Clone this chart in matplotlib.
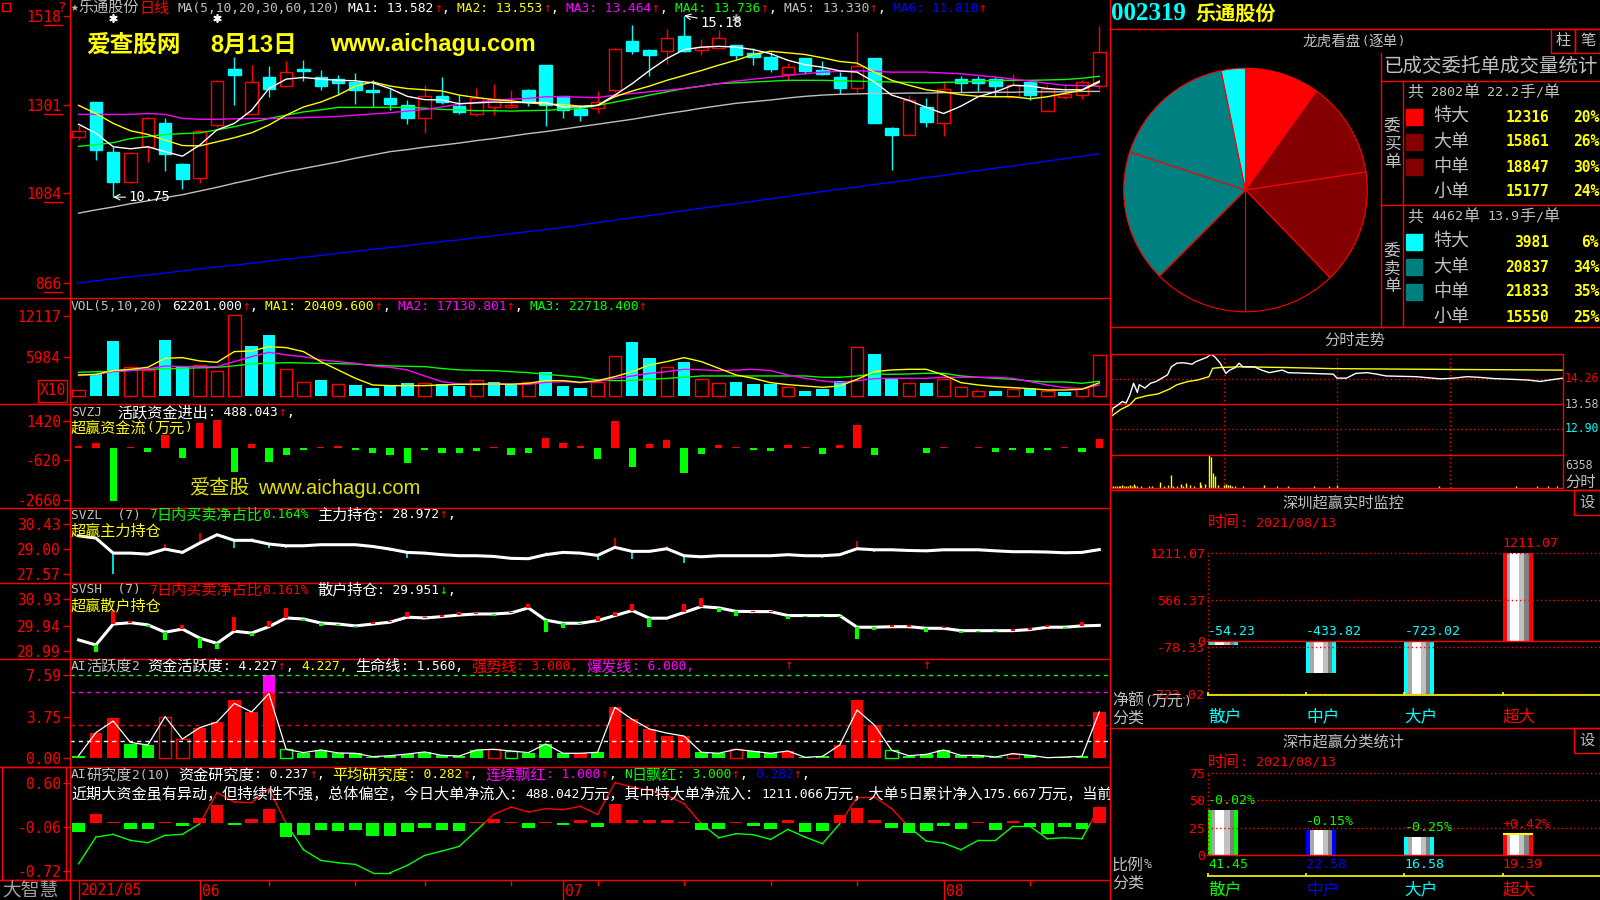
import matplotlib
matplotlib.use('Agg')
import matplotlib.pyplot as plt
from matplotlib.patches import Rectangle
from matplotlib.lines import Line2D

# ---------------- data ----------------
dates = ['2021/05', '06', '07', '08']
date_idx = [0, 7, 28, 50]
week_idx = [11, 16, 20, 25, 30, 35, 40, 45, 55]
event_idx = [2, 8, 38]
signal_idx = [41, 49]

opens = [12.21, 13.06, 11.84, 11.13, 11.98, 12.57, 11.56, 11.21, 12.52, 13.87,
         12.79, 13.67, 13.46, 13.87, 13.69, 13.63, 13.55, 13.37, 13.16, 12.99,
         12.67, 13.22, 12.97, 12.77, 12.95, 12.95, 13.36, 13.97, 13.21, 12.89,
         12.93, 13.36, 14.55, 14.33, 14.31, 14.69, 14.35, 14.39, 14.45, 14.27,
         14.18, 13.76, 14.15, 13.86, 13.67, 13.41, 14.15, 12.43, 12.27, 12.94,
         12.56, 13.64, 13.63, 13.64, 13.20, 13.56, 12.86, 13.20, 13.25, 13.45]
highs = [12.51, 13.08, 11.98, 11.85, 12.71, 12.67, 11.58, 12.38, 13.61, 14.17,
         13.97, 13.94, 14.06, 14.10, 13.86, 13.72, 13.78, 13.60, 13.40, 13.12,
         13.48, 13.67, 13.24, 13.42, 13.52, 13.36, 13.38, 13.97, 13.21, 12.99,
         13.34, 14.40, 14.94, 14.37, 14.86, 15.18, 14.61, 14.83, 14.45, 14.39,
         14.29, 14.03, 14.15, 14.06, 13.80, 14.78, 14.15, 12.45, 13.24, 13.16,
         13.58, 13.70, 13.70, 13.68, 13.75, 13.56, 13.48, 13.52, 13.60, 14.93]
lows = [12.14, 11.66, 10.75, 11.10, 11.62, 11.40, 10.95, 11.09, 12.45, 12.99,
        12.79, 13.20, 13.46, 13.58, 13.36, 13.26, 13.03, 12.94, 12.87, 12.53,
        12.31, 13.03, 12.79, 12.73, 12.75, 12.93, 12.97, 12.48, 12.67, 12.61,
        12.81, 13.32, 14.25, 13.70, 14.01, 14.29, 14.23, 14.39, 14.13, 13.97,
        13.80, 13.58, 13.76, 13.74, 13.26, 13.32, 12.56, 11.41, 12.27, 12.47,
        12.24, 13.32, 13.34, 13.20, 13.20, 13.13, 12.86, 13.14, 13.15, 13.40]
closes = [12.37, 11.90, 11.13, 11.82, 12.67, 11.80, 11.20, 12.36, 13.59, 13.72,
          13.57, 13.40, 13.80, 13.82, 13.46, 13.54, 13.36, 13.31, 13.02, 12.69,
          13.22, 13.07, 12.83, 13.16, 13.15, 12.99, 13.06, 12.99, 12.87, 12.75,
          13.06, 14.37, 14.31, 14.23, 14.64, 14.31, 14.41, 14.64, 14.21, 14.17,
          13.87, 13.92, 13.84, 13.76, 13.41, 13.96, 12.56, 12.26, 13.11, 12.59,
          13.40, 13.54, 13.54, 13.46, 13.48, 13.24, 13.38, 13.26, 13.56, 14.29]

ma5 = [12.53, 12.31, 11.98, 11.93, 11.98, 11.86, 11.75, 12.02, 12.39, 12.55,
       12.87, 13.40, 13.63, 13.67, 13.63, 13.60, 13.59, 13.54, 13.40, 13.21,
       13.13, 13.12, 13.03, 13.05, 13.07, 13.06, 13.06, 13.06, 12.95, 12.95,
       12.99, 13.24, 13.52, 13.84, 14.13, 14.35, 14.41, 14.43, 14.41, 14.35,
       14.25, 14.09, 13.98, 13.92, 13.83, 13.80, 13.56, 13.24, 13.11, 12.94,
       12.79, 12.97, 13.20, 13.32, 13.48, 13.46, 13.40, 13.37, 13.37, 13.58]
ma10 = [12.99, 12.79, 12.55, 12.37, 12.28, 12.14, 12.01, 12.00, 12.10, 12.20,
        12.32, 12.51, 12.75, 12.95, 13.07, 13.24, 13.46, 13.56, 13.46, 13.40,
        13.37, 13.34, 13.24, 13.18, 13.13, 13.10, 13.05, 13.02, 13.01, 12.97,
        12.99, 13.20, 13.34, 13.46, 13.60, 13.72, 13.84, 13.97, 14.09, 14.23,
        14.31, 14.27, 14.23, 14.15, 14.06, 14.02, 13.80, 13.60, 13.48, 13.37,
        13.32, 13.25, 13.21, 13.20, 13.20, 13.15, 13.20, 13.28, 13.36, 13.55]
ma20 = [12.77, 12.77, 12.77, 12.77, 12.79, 12.77, 12.67, 12.65, 12.65, 12.66,
        12.67, 12.67, 12.68, 12.69, 12.70, 12.72, 12.75, 12.78, 12.81, 12.85,
        12.89, 12.95, 13.02, 13.06, 13.12, 13.14, 13.16, 13.20, 13.20, 13.19,
        13.18, 13.24, 13.28, 13.32, 13.36, 13.40, 13.46, 13.52, 13.58, 13.63,
        13.67, 13.72, 13.76, 13.80, 13.82, 13.83, 13.82, 13.80, 13.80, 13.80,
        13.78, 13.76, 13.72, 13.68, 13.63, 13.58, 13.53, 13.48, 13.47, 13.46]
ma30 = [11.99, 12.03, 12.08, 12.18, 12.23, 12.28, 12.30, 12.32, 12.39, 12.47,
        12.57, 12.67, 12.75, 12.83, 12.88, 12.94, 12.94, 12.94, 12.94, 12.94,
        12.92, 12.89, 12.88, 12.86, 12.86, 12.85, 12.86, 12.87, 12.89, 12.91,
        12.99, 13.07, 13.15, 13.24, 13.32, 13.40, 13.46, 13.52, 13.54, 13.56,
        13.58, 13.60, 13.60, 13.60, 13.59, 13.58, 13.57, 13.56, 13.55, 13.54,
        13.55, 13.56, 13.58, 13.60, 13.60, 13.60, 13.61, 13.62, 13.65, 13.70]
ma60 = [10.36, 10.44, 10.51, 10.59, 10.66, 10.74, 10.81, 10.90, 10.99, 11.09,
        11.18, 11.28, 11.37, 11.45, 11.53, 11.61, 11.70, 11.78, 11.86, 11.91,
        11.97, 12.02, 12.07, 12.13, 12.18, 12.24, 12.30, 12.35, 12.41, 12.47,
        12.53, 12.59, 12.65, 12.72, 12.79, 12.85, 12.92, 12.98, 13.04, 13.08,
        13.12, 13.17, 13.21, 13.24, 13.26, 13.27, 13.28, 13.28, 13.29, 13.29,
        13.30, 13.30, 13.31, 13.31, 13.31, 13.32, 13.32, 13.32, 13.33, 13.33]
ma120 = [8.66, 8.71, 8.76, 8.81, 8.85, 8.90, 8.95, 9.00, 9.05, 9.09,
         9.14, 9.19, 9.24, 9.28, 9.33, 9.38, 9.43, 9.48, 9.52, 9.57,
         9.62, 9.67, 9.71, 9.76, 9.81, 9.86, 9.91, 9.96, 10.01, 10.07,
         10.13, 10.19, 10.25, 10.30, 10.36, 10.42, 10.48, 10.54, 10.59, 10.65,
         10.71, 10.77, 10.83, 10.89, 10.94, 11.00, 11.06, 11.11, 11.17, 11.23,
         11.28, 11.34, 11.40, 11.46, 11.51, 11.57, 11.63, 11.69, 11.75, 11.81]

volume = [9550, 33200, 83500, 43760, 39740, 85000, 45770, 47280, 38230, 122730,
          75950, 92550, 40740, 21130, 24650, 18110, 17100, 13080, 17100, 20620,
          19620, 18110, 16100, 24650, 22130, 17100, 21130, 37220, 15590, 13080,
          22130, 60860, 82490, 57850, 43760, 52310, 25650, 19620, 21630, 18610,
          18610, 13580, 8050, 11070, 23140, 73940, 63880, 27160, 19620, 20120,
          25650, 13580, 7550, 8050, 10560, 12000, 7550, 6540, 13000, 62201]
vol_ma5 = [32190, 33200, 38730, 40740, 43760, 57340, 58350, 53320, 51310, 67400,
           68410, 74950, 73440, 67400, 52310, 39740, 27160, 17100, 16100, 16100,
           16100, 17100, 18110, 18110, 18610, 18110, 19620, 23640, 23640, 21130,
           23640, 29680, 37220, 47280, 52310, 58350, 52310, 42250, 32190, 27160,
           20620, 17610, 15590, 13580, 15590, 25650, 37220, 39740, 40740, 40740,
           32190, 20620, 17100, 14590, 13080, 11570, 9560, 9560, 10560, 20410]
vol_ma10 = [31190, 33000, 37220, 39000, 41250, 45770, 45000, 44770, 44770, 52310,
            59860, 66400, 62370, 59860, 54830, 52310, 49800, 45770, 43760, 39740,
            30680, 22130, 18610, 18610, 18610, 18610, 18110, 21000, 22130, 20620,
            22130, 27160, 30680, 34710, 37220, 40740, 40000, 38730, 39500, 40740,
            38730, 32190, 27160, 23140, 20620, 23640, 26660, 27160, 27160, 27160,
            28670, 28670, 28670, 28670, 27160, 22130, 17100, 13080, 11570, 17130]
vol_ma20 = [36220, 37000, 37730, 39000, 40740, 41500, 42250, 43000, 43760, 46000,
            48790, 49800, 50800, 50300, 49800, 49300, 48790, 47000, 45770, 45200,
            44770, 42000, 39740, 39200, 38730, 37200, 35710, 33200, 31000, 28670,
            24650, 23640, 24000, 25650, 27000, 28670, 30680, 30680, 30680, 30680,
            30680, 30680, 30680, 28670, 28670, 30680, 33700, 33200, 33700, 34710,
            34710, 30680, 28670, 27160, 25650, 23140, 21630, 21630, 19620, 22720]

svzj = [137, 291, -2691, 86, -171, 686, -514, 1320, 1457, -1200,
        223, -686, -326, -69, 86, 120, -86, -223, -326, -737,
        -86, -223, -257, -120, 86, -326, -223, 531, 257, 120,
        -549, 1405, -943, 223, 429, -1251, -274, 171, 69, -86,
        -120, 171, 69, -274, 171, 1200, -326, 30, 30, -240,
        69, 30, 69, -171, -86, -223, -86, 69, -171, 488]

svzl = [29.76, 29.63, 28.77, 28.77, 28.71, 29.00, 28.81, 29.34, 29.82, 29.50,
        29.50, 29.29, 29.19, 29.19, 29.25, 29.25, 29.25, 29.15, 29.00, 28.81,
        28.77, 28.68, 28.62, 28.62, 28.58, 28.47, 28.45, 28.68, 28.81, 28.77,
        28.64, 29.10, 28.87, 28.87, 29.02, 28.62, 28.56, 28.62, 28.62, 28.62,
        28.62, 28.68, 28.62, 28.62, 28.68, 29.02, 28.96, 28.96, 28.92, 28.90,
        28.96, 28.96, 28.96, 28.90, 28.85, 28.85, 28.83, 28.79, 28.81, 28.97]
svzl_tick = [0, 0, -1.18, 0.06, -0.06, 0.30, -0.10, 0.57, 0.12, -0.44,
             0.13, -0.23, -0.10, 0.03, 0.06, 0.06, 0, -0.10, -0.10, -0.32,
             0.03, -0.06, -0.06, -0.06, 0.06, -0.06, -0.06, 0.15, 0.08, 0.08,
             -0.25, 0.53, -0.42, 0.08, 0.17, -0.42, -0.06, 0.06, 0.04, -0.06,
             -0.06, 0.06, 0.06, -0.15, 0.06, 0.46, -0.15, 0.06, 0.06, -0.06,
             0.06, 0.04, 0.06, -0.06, 0, -0.06, -0.06, 0.06, -0.06, 0]

svsh = [29.40, 29.21, 30.00, 30.05, 29.97, 29.69, 29.81, 29.47, 29.27, 29.73,
        29.66, 29.90, 30.23, 30.19, 30.04, 30.00, 29.93, 30.00, 30.07, 30.26,
        30.23, 30.28, 30.34, 30.38, 30.38, 30.42, 30.61, 30.15, 30.03, 30.03,
        30.13, 30.32, 30.51, 30.22, 30.22, 30.44, 30.66, 30.61, 30.48, 30.47,
        30.47, 30.32, 30.32, 30.32, 30.32, 29.88, 29.88, 29.90, 29.90, 29.84,
        29.84, 29.75, 29.75, 29.75, 29.75, 29.79, 29.88, 29.88, 29.93, 29.95]
svsh_tick = [0, -0.28, 0.50, 0.06, -0.09, -0.31, 0.15, -0.39, -0.21, 0.53,
             -0.10, 0.23, 0.38, -0.06, -0.13, -0.05, -0.05, 0.06, 0.05, 0.19,
             0.05, 0.05, 0.10, 0.05, -0.06, 0.05, 0.13, -0.45, -0.19, -0.04,
             0.19, 0.13, 0.25, -0.34, 0, 0.32, 0.32, -0.14, -0.18, 0.04,
             0.04, -0.13, -0.04, -0.04, -0.04, -0.44, -0.09, 0.06, 0.06, -0.15,
             0.06, -0.09, -0.06, -0.06, 0.06, 0.06, 0.09, -0.06, 0.13, 0]

act = [0.24, 2.34, 3.67, 1.31, 1.21, 3.80, 1.76, 2.79, 3.31, 5.31,
       4.22, 7.59, 0.82, 0.52, 0.76, 0.49, 0.46, 0.15, 0.24, 0.39,
       0.58, 0.27, 0.21, 0.76, 0.82, 0.67, 0.52, 1.31, 0.46, 0.46,
       0.55, 4.65, 3.55, 2.67, 2.03, 2.03, 0.55, 0.46, 0.82, 0.64,
       0.46, 0.67, 0.09, 0.18, 1.21, 5.31, 3.04, 0.73, 0.24, 0.36,
       0.76, 0.27, 0.27, 0.12, 0.43, 0.27, 0.06, 0.12, 0.18, 4.23]
act_line = [0.24, 2.34, 3.40, 1.45, 1.21, 3.80, 1.76, 2.79, 3.31, 5.00,
            4.22, 5.90, 0.82, 0.52, 0.76, 0.49, 0.46, 0.15, 0.24, 0.39,
            0.58, 0.27, 0.21, 0.76, 0.82, 0.67, 0.52, 1.31, 0.46, 0.46,
            0.55, 4.65, 3.55, 2.67, 2.30, 2.03, 0.55, 0.46, 0.82, 0.64,
            0.46, 0.67, 0.09, 0.18, 1.21, 4.40, 3.04, 0.73, 0.24, 0.36,
            0.76, 0.27, 0.27, 0.12, 0.43, 0.27, 0.06, 0.12, 0.18, 4.23]
act_red = [0, 1, 1, 0, 0, 1, 1, 1, 1, 1, 1, 1, 0, 0, 0, 0, 0, 0, 0, 0,
           0, 0, 0, 0, 1, 0, 0, 0, 0, 1, 0, 1, 1, 1, 1, 1, 0, 0, 1, 0,
           0, 1, 0, 0, 1, 1, 1, 0, 0, 0, 0, 0, 0, 0, 1, 0, 0, 0, 0, 1]
act_hollow = [5, 6, 12, 24, 25, 38, 47, 54]
act_levels = [7.59, 6.0, 3.0, 1.56]

res = [-0.136, 0.141, 0.01, -0.091, -0.091, 0.01, -0.045, 0.081, 0.267, -0.035,
       0.055, 0.207, -0.212, -0.181, -0.111, -0.121, -0.106, -0.197, -0.197, -0.141,
       -0.076, -0.106, -0.121, 0.01, 0.055, 0.01, -0.076, 0.01, -0.025, 0.04,
       -0.06, 0.28, 0.04, 0.05, 0.04, 0.01, -0.11, -0.085, 0.01, -0.045,
       -0.085, 0.04, -0.135, -0.12, 0.115, 0.227, 0.04, -0.075, -0.15, -0.12,
       -0.045, -0.09, 0.01, -0.10, 0.025, -0.06, -0.16, -0.06, -0.085, 0.237]
res_line = [-0.615, -0.212, -0.171, -0.262, -0.297, -0.186, -0.171, -0.01, 0.459, 0.318,
            0.307, 0.519, -0.01, -0.403, -0.564, -0.600, -0.625, -0.751, -0.751, -0.640,
            -0.489, -0.423, -0.353, -0.111, 0.131, 0.242, 0.166, 0.217, 0.202, 0.252,
            0.131, 0.610, 0.544, 0.494, 0.418, 0.292, -0.01, -0.222, -0.161, -0.176,
            -0.247, -0.096, -0.212, -0.312, -0.01, 0.393, 0.393, 0.217, -0.06, -0.272,
            -0.302, -0.403, -0.262, -0.262, -0.05, -0.05, -0.237, -0.222, -0.237, 0.242]

# order book (龙虎看盘)
size_names = ['特大', '大单', '中单', '小单']
buy_vol = [12316, 15861, 18847, 15177]
buy_pct = ['20%', '26%', '30%', '24%']
sell_vol = [3981, 20837, 21833, 15550]
sell_pct = ['6%', '34%', '35%', '25%']

# intraday
tick_min = [0, 1, 3, 6, 8, 10, 12, 14, 15, 18, 21, 24, 27, 30, 32, 35, 38, 40, 43, 45,
            48, 51, 53, 55, 58, 61, 63, 66, 68, 70, 76, 80, 84, 87, 91, 94, 106, 118, 120, 125,
            130, 136, 141, 146, 162, 175, 182, 189, 196, 203, 212, 221, 228, 233, 240]
tick_px = [13.24, 13.47, 13.53, 13.65, 13.61, 13.83, 14.15, 13.90, 14.11, 14.02,
           14.15, 14.20, 14.29, 14.38, 14.60, 14.70, 14.71, 14.70, 14.67, 14.74,
           14.80, 14.86, 14.94, 14.88, 14.70, 14.42, 14.51, 14.58, 14.70, 14.60,
           14.60, 14.51, 14.44, 14.47, 14.51, 14.44, 14.42, 14.40, 14.29, 14.29,
           14.42, 14.44, 14.40, 14.35, 14.33, 14.27, 14.29, 14.33, 14.31, 14.28,
           14.26, 14.24, 14.20, 14.24, 14.29]
avg_min = [0, 5, 10, 13, 19, 25, 31, 35, 41, 46, 52, 54, 58, 68, 93, 118, 175, 240]
avg_px = [13.24, 13.43, 13.56, 13.73, 13.81, 13.86, 13.99, 14.11, 14.20, 14.24,
          14.33, 14.56, 14.58, 14.60, 14.58, 14.55, 14.53, 14.51]
ivol_min = [0, 1, 2, 3, 4, 5, 6, 7, 8, 9, 10, 11, 12, 13, 14, 16, 20, 22, 26, 28,
            30, 32, 33, 35, 37, 38, 40, 42, 44, 47, 48, 50, 52, 53, 54, 55, 57, 60, 61, 62,
            63, 64, 66, 70, 81, 88, 94, 108, 116, 120, 174, 215, 226, 232, 237]
ivol = [509, 318, 445, 318, 318, 381, 509, 445, 445, 381, 636, 318, 827, 318, 445, 318, 318, 318, 1081, 318,
        509, 2543, 445, 318, 763, 445, 954, 636, 445, 1144, 509, 827, 6358, 6040, 2861, 2225, 509, 509, 827, 509,
        636, 445, 318, 318, 509, 318, 318, 318, 318, 636, 318, 318, 318, 318, 318]

# Shenzhen monitors
sz_cats = ['散户', '中户', '大户', '超大']
sz_net = [-54.23, -433.82, -723.02, 1211.07]
sz_ticks = [1211.07, 566.37, 0, -78.33, -723.02]
sm_ratio = [41.45, 22.58, 16.58, 19.39]
sm_chg = ['-0.02%', '-0.15%', '-0.25%', '+0.42%']

# ---------------- style ----------------
RED = '#ff0000'; CYAN = '#00ffff'; YEL = '#ffff00'; MAG = '#ff00ff'
GRN = '#00ff00'; BLUE = '#0000ff'; GRAY = '#c0c0c0'; WHITE = '#ffffff'
DRED = '#840000'; TEAL = '#008080'
MONO = ['DejaVu Sans Mono', 'Noto Sans CJK SC']
CJK = ['Noto Sans CJK SC', 'DejaVu Sans']
W, H = 1600, 900
PX = 100 / 72

fig = plt.figure(figsize=(16, 9), dpi=100, facecolor='black')


def panel(x0, y0, x1, y1, xlim=None, ylim=None):
    a = fig.add_axes([x0 / W, 1 - y1 / H, (x1 - x0) / W, (y1 - y0) / H])
    a.set_facecolor('none')
    for s in a.spines.values():
        s.set_visible(False)
    a.set_xticks([])
    a.set_yticks([])
    if xlim:
        a.set_xlim(*xlim)
    if ylim:
        a.set_ylim(*ylim)
    return a


def seg(x0, y0, x1, y1, color=RED, lw=1.0, ls='-'):
    fig.add_artist(Line2D([x0 / W, x1 / W], [1 - y0 / H, 1 - y1 / H], color=color, lw=lw, ls=ls))


def rect(x0, y0, x1, y1, color=RED, fill=False, lw=1.0):
    fig.add_artist(Rectangle((x0 / W, 1 - y1 / H), (x1 - x0) / W, (y1 - y0) / H,
                             fill=fill, facecolor=color, edgecolor=color, lw=lw,
                             transform=fig.transFigure))


def txt(x, y, s, color=GRAY, size=10, family=CJK, ha='left', weight='normal'):
    return fig.text(x / W, 1 - y / H, s, color=color, fontsize=size, family=family,
                    ha=ha, va='center', weight=weight)


def runs(s):
    out = []
    for ch in s:
        wide = ord(ch) >= 0x2E80
        if out and out[-1][1] == wide:
            out[-1][0] += ch
        else:
            out.append([ch, wide])
    return out


def width(parts, ms, cs):
    w = 0
    for s, c in parts:
        for r, wide in runs(s):
            w += len(r) * (cs if wide else ms * 0.602) * PX
    return w


def put(x, y, parts, ms=9.3, cs=10.9, weight='normal', clip=None, center=False):
    if center:
        x -= width(parts, ms, cs) / 2
    for s, c in parts:
        for r, wide in runs(s):
            size = cs if wide else ms
            cw = size * (1.0 if wide else 0.602) * PX
            lead = len(r) - len(r.lstrip())
            if r.strip():
                t = txt(x + lead * cw, y, r.strip(), c, size, CJK if wide else MONO, weight=weight)
                if clip is not None:
                    t.set_clip_box(clip.bbox)
                    t.set_clip_on(True)
            x += len(r) * cw
    return x


def yaxis(a, vals, labels, size=10.5, length=5):
    a.set_yticks(vals, labels)
    a.tick_params(axis='y', colors=RED, length=length, width=1, pad=1.5, labelsize=size)
    for t in a.get_yticklabels():
        t.set_family(MONO)


# ---------------- left chart ----------------
n = len(closes)
X = list(range(n))
XL = (-0.497, 59.62)
bw = 0.72

ap = panel(70, 0, 1110, 298, XL, (8.29, 15.56))
av = panel(70, 298, 1110, 404, XL, (-1160, 14830))
az = panel(70, 404, 1110, 508, XL, (-3075, 2287))
al = panel(70, 508, 1110, 583, XL, (27.06, 31.35))
ash = panel(70, 583, 1110, 659, XL, (28.68, 31.55))
aa = panel(70, 659, 1110, 767, XL, (-0.79, 9.05))
ay = panel(70, 767, 1110, 880, XL, (-0.86, 0.846))


def xpix(i):
    return ap.transData.transform((i, 0))[0]


# candles
for i in X:
    o, h, l, c = opens[i], highs[i], lows[i], closes[i]
    if c >= o:
        ap.add_patch(Rectangle((i - bw / 2, o), bw, max(c - o, 0.012), fill=False, edgecolor=RED, lw=1))
        ap.vlines(i, c, h, color=RED, lw=1)
        ap.vlines(i, l, o, color=RED, lw=1)
    else:
        ap.vlines(i, l, h, color=CYAN, lw=1)
        ap.add_patch(Rectangle((i - bw / 2, c), bw, o - c, facecolor=CYAN, edgecolor=CYAN, lw=1))
for ma, col in [(ma120, BLUE), (ma60, GRAY), (ma30, GRN), (ma20, MAG), (ma10, YEL), (ma5, WHITE)]:
    ap.plot(X, ma, color=col, lw=1)
yaxis(ap, [15.18, 13.01, 10.84, 8.66], ['1518', '1301', '1084', '866'])
for v in [15.18, 13.01, 10.84, 8.66]:
    yy = H - ap.transData.transform((0, v))[1]
    seg(44, yy + 9, 62, yy + 9)
lo_i = lows.index(min(lows))
hi_i = highs.index(max(highs))
ap.annotate(f'{min(lows):.2f}', xy=(lo_i, min(lows)), xytext=(15, 0), textcoords='offset pixels',
            color=WHITE, fontsize=10, family=MONO, va='center',
            arrowprops=dict(arrowstyle='->', color=WHITE, lw=0.8, shrinkA=0, shrinkB=0))
ap.annotate(f'{max(highs):.2f}', xy=(hi_i, max(highs)), xytext=(16, -7), textcoords='offset pixels',
            color=WHITE, fontsize=10, family=MONO, va='center',
            arrowprops=dict(arrowstyle='->', color=WHITE, lw=0.8, shrinkA=0, shrinkB=0))
ap.plot(event_idx[:2], [15.12, 15.12], ls='none', marker=(6, 2, 0), ms=6, color=WHITE, mew=1.2)
ap.plot(event_idx[2:], [15.12], ls='none', marker=(6, 2, 0), ms=6, color='#909090', mew=1.2)

# volume
vv = [v / 10 for v in volume]
for i in X:
    up = i == 0 or closes[i] >= closes[i - 1]
    if up:
        av.add_patch(Rectangle((i - bw / 2, 0), bw, vv[i], fill=False, edgecolor=RED, lw=1))
    else:
        av.bar(i, vv[i], width=bw, color=CYAN, linewidth=0)
for ma, col in [(vol_ma20, GRN), (vol_ma10, MAG), (vol_ma5, YEL)]:
    av.plot(X, [v / 10 for v in ma], color=col, lw=1)
yaxis(av, [12117, 5984], ['12117', '5984'])

# SVZJ
az.bar(X, svzj, width=0.42, color=[RED if v > 0 else GRN for v in svzj], linewidth=0)
yaxis(az, [1420, -620, -2660], ['1420', '-620', '-2660'])

# SVZL
al.plot(X, svzl, color=WHITE, lw=2.2, zorder=3)
for i in X:
    t = svzl_tick[i]
    if t > 0:
        al.vlines(i, svzl[i], svzl[i] + t, color=RED, lw=1.2, zorder=2)
    elif t < 0:
        al.vlines(i, svzl[i] + t, svzl[i], color=CYAN, lw=1.2, zorder=2)
yaxis(al, [30.43, 29.00, 27.57], ['30.43', '29.00', '27.57'])

# SVSH
ash.plot(X, svsh, color=WHITE, lw=2.2, zorder=2)
for i in X:
    t = svsh_tick[i]
    if t > 0:
        ash.vlines(i, svsh[i], svsh[i] + t, color=RED, lw=3, zorder=3)
    elif t < 0:
        ash.vlines(i, svsh[i] + t, svsh[i], color=GRN, lw=3, zorder=3)
yaxis(ash, [30.93, 29.94, 28.99], ['30.93', '29.94', '28.99'])

# AI活跃度
for lv, col in zip(act_levels, [GRN, MAG, RED, WHITE]):
    aa.axhline(lv, color=col, lw=1, ls=(0, (3, 3)))
burst = act_levels[1]
for i, v in enumerate(act):
    col = RED if act_red[i] else GRN
    if i in act_hollow:
        aa.add_patch(Rectangle((i - bw / 2, 0), bw, v, fill=False, edgecolor=col, lw=1))
    else:
        aa.bar(i, min(v, burst), width=bw, color=col, linewidth=0)
        if v > burst:
            aa.bar(i, v - burst, bottom=burst, width=bw, color=MAG, linewidth=0)
aa.plot(X, act_line, color=WHITE, lw=0.9)
yaxis(aa, [7.59, 3.75, 0.0], ['7.59', '3.75', '0.00'])

# AI研究度
ay.bar(X, res, width=bw, color=[RED if v > 0 else GRN for v in res], linewidth=0)
for k in range(n - 1):
    x0, x1, y0, y1 = X[k], X[k + 1], res_line[k], res_line[k + 1]
    if (y0 >= 0) == (y1 >= 0):
        ay.plot([x0, x1], [y0, y1], color=RED if y0 >= 0 else GRN, lw=1)
    else:
        xm = x0 + (x1 - x0) * y0 / (y0 - y1)
        ay.plot([x0, xm], [y0, 0], color=RED if y0 >= 0 else GRN, lw=1)
        ay.plot([xm, x1], [0, y1], color=RED if y1 >= 0 else GRN, lw=1)
yaxis(ay, [0.60, -0.06, -0.72], ['0.60', '-0.06', '-0.72'])

# frame lines of the left chart
for y in (298, 404, 508, 583, 659, 767, 880):
    seg(0, y, 1110, y)
seg(70, 0, 70, 900)
seg(1110, 0, 1110, 900)
rect(2, 767, 66, 880)
rect(38, 380, 67, 402)
txt(52.5, 391, 'X10', RED, 10.5, MONO, ha='center')
rect(2, 3, 10, 11)
txt(57, 8, '?', RED, 10, MONO)

# headers
put(71, 8, [('★乐通股份', GRAY), ('日线', RED), (' MA(5,10,20,30,60,120) ', GRAY),
            ('MA1: 13.582', WHITE), ('↑', RED), (', ', WHITE),
            ('MA2: 13.553', YEL), ('↑', RED), (', ', WHITE),
            ('MA3: 13.464', MAG), ('↑', RED), (', ', WHITE),
            ('MA4: 13.736', GRN), ('↑', RED), (', ', WHITE),
            ('MA5: 13.330', GRAY), ('↑', RED), (', ', WHITE),
            ('MA6: 11.810', BLUE), ('↑', RED)])
put(71, 306, [('VOL(5,10,20) ', GRAY), ('62201.000', WHITE), ('↑', RED), (', ', WHITE),
              ('MA1: 20409.600', YEL), ('↑', RED), (', ', WHITE),
              ('MA2: 17130.801', MAG), ('↑', RED), (', ', WHITE),
              ('MA3: 22718.400', GRN), ('↑', RED)])
put(71, 413, [('SVZJ  ', GRAY), ('活跃资金进出: 488.043', WHITE), ('↑', RED), (',', WHITE)])
put(71, 428, [('超赢资金流(万元)', YEL)])
put(71, 515, [('SVZL  (7) ', GRAY), ('7日内买卖净占比0.164%', GRN), (' 主力持仓: 28.972', WHITE),
              ('↑', RED), (',', WHITE)])
put(71, 531, [('超赢主力持仓', YEL)])
put(71, 590, [('SVSH  (7) ', GRAY), ('7日内买卖净占比0.161%', RED), (' 散户持仓: 29.951', WHITE),
              ('↓', GRN), (',', WHITE)])
put(71, 606, [('超赢散户持仓', YEL)])
put(71, 667, [('AI活跃度2 ', GRAY), ('资金活跃度: 4.227', WHITE), ('↑', RED), (', ', WHITE),
              ('4.227, ', YEL), ('生命线: 1.560, ', WHITE), ('强势线: 3.000, ', RED),
              ('爆发线: 6.000,', MAG)])
for i in signal_idx:
    txt(xpix(i), 665, '↑', RED, 10, MONO, ha='center')
put(71, 775, [('AI研究度2(10) ', GRAY), ('资金研究度: 0.237', WHITE), ('↑', RED), (', ', WHITE),
              ('平均研究度: 0.282', YEL), ('↑', RED), (', ', WHITE),
              ('连续飘红: 1.000', MAG), ('↑', RED), (', ', WHITE),
              ('N日飘红: 3.000', GRN), ('↑', RED), (', ', WHITE),
              ('0.282', BLUE), ('↑', RED), (',', WHITE)])
put(71, 794, [('近期大资金虽有异动，但持续性不强，总体偏空，今日大单净流入：488.042万元，'
               '其中特大单净流入：1211.066万元，大单5日累计净入175.667万元，当前', WHITE)], clip=ay)

# watermarks
txt(86, 45, '爱查股网', YEL, 17, CJK, weight='bold')
txt(210, 45, '8月13日', YEL, 17, ['Liberation Sans', 'Noto Sans CJK SC'], weight='bold')
txt(330, 45, 'www.aichagu.com', YEL, 17, ['Liberation Sans', 'DejaVu Sans'], weight='bold')
txt(189, 489, '爱查股', '#e0e000', 14.5, CJK)
txt(258, 489, 'www.aichagu.com', '#e0e000', 14.5, ['Liberation Sans', 'DejaVu Sans'])

# date axis
for lab, i in zip(dates, date_idx):
    x = xpix(i)
    seg(x, 880, x, 900)
    txt(x + 2, 891, lab, RED, 10.5, MONO)
for i in week_idx:
    x = xpix(i)
    seg(x, 880, x, 885)
txt(2, 891, '大智慧', '#a0a0a0', 13.5, CJK)

# ---------------- right panel ----------------
txt(1111, 14, '002319', CYAN, 18, ['Liberation Serif', 'DejaVu Serif'], weight='bold')
txt(1195, 14, '乐通股份', YEL, 14.5, CJK, weight='bold')
for y in (29, 327, 490, 728):
    seg(1110, y, 1600, y)

# 龙虎看盘
put(1354, 42, [('龙虎看盘(逐单)', GRAY)], ms=8.7, cs=10.5, center=True)
rect(1551, 29, 1575, 53)
rect(1575, 29, 1600, 53)
txt(1563, 41, '柱', GRAY, 11, ha='center')
txt(1588, 41, '笔', GRAY, 11, ha='center')

axp = panel(1122, 67, 1369, 313)
pie_vals = buy_vol + sell_vol[::-1]
pie_cols = [RED, DRED, DRED, 'black', 'black', TEAL, TEAL, CYAN]
axp.pie(pie_vals, colors=pie_cols, startangle=90, counterclock=False,
        wedgeprops=dict(edgecolor=RED, linewidth=0.8))
axp.set_xlim(-1.01, 1.01)
axp.set_ylim(-1.01, 1.01)

seg(1381, 53, 1381, 327)
seg(1381, 81, 1600, 81)
seg(1403, 81, 1403, 327)
seg(1381, 205, 1600, 205)
txt(1383, 67, '已成交委托单成交量统计', GRAY, 14)

buy_cols = [RED, DRED, DRED, None]
sell_cols = [CYAN, TEAL, TEAL, None]
blocks = [(92, 117, '委买单', 127, buy_vol, buy_pct, buy_cols, '共 2802单 22.2手/单'),
          (217, 242, '委卖单', 252, sell_vol, sell_pct, sell_cols, '共 4462单 13.9手/单')]
for hy, ry, side, vy, vols, pcts, cols, head in blocks:
    put(1407, hy, [(head, GRAY)], ms=9.6, cs=11.5)
    for k, ch in enumerate(side):
        txt(1392, vy + 17.5 * k, ch, GRAY, 12, ha='center')
    for k in range(4):
        y = ry + 25 * k
        if cols[k]:
            rect(1406, y - 8, 1422, y + 8, cols[k], fill=True)
        txt(1433, y, size_names[k], GRAY, 13)
        txt(1549, y, str(vols[k]), YEL, 10.5, MONO, ha='right', weight='bold')
        txt(1599, y, pcts[k], YEL, 10.5, MONO, ha='right', weight='bold')

# 分时走势
txt(1355, 340, '分时走势', GRAY, 11, ha='center')
af = panel(1111, 354, 1563, 455, (0, 240), (12.19, 14.95))
afv = panel(1111, 455, 1563, 488, (0, 240), (0, 6358))
af.axhline(13.58, color=RED, lw=1)
for lv in (14.26, 12.90):
    af.axhline(lv, color=RED, lw=1, ls=(0, (1, 2)))
for m in (60, 120, 180):
    af.axvline(m, color=RED, lw=1, ls=(0, (1, 2)))
    afv.axvline(m, color=RED, lw=1, ls=(0, (1, 2)))
af.plot(avg_min, avg_px, color=YEL, lw=1)
af.plot(tick_min, tick_px, color=WHITE, lw=1)
afv.vlines(ivol_min, 0, ivol, color=YEL, lw=1)
rect(1111, 354, 1563, 488)
seg(1111, 455, 1563, 455)
txt(1565, 379, '14.26', RED, 8.3, MONO)
txt(1565, 404, '13.58', GRAY, 8.3, MONO)
txt(1565, 429, '12.90', CYAN, 8.3, MONO)
txt(1565, 465, '6358', GRAY, 8.3, MONO)
txt(1565, 482, '分时', GRAY, 11)


def cyl(a, x, w, y0, y1, edge):
    stripes = [(0.0, 0.13, edge), (0.13, 0.25, '#a8a8a8'), (0.25, 0.55, WHITE),
               (0.55, 0.72, '#c0c0c0'), (0.72, 0.86, '#808080'), (0.86, 1.0, edge)]
    for s0, s1, c in stripes:
        a.bar(x + s0 * w, y1 - y0, width=(s1 - s0) * w, bottom=y0, color=c,
              align='edge', linewidth=0)


cat_cols = [CYAN, CYAN, CYAN, RED]
sm_cols = [GRN, BLUE, CYAN, RED]
chg_cols = [GRN, GRN, GRN, RED]
cw = 0.305

# 深圳超赢实时监控
txt(1343, 503, '深圳超赢实时监控', GRAY, 11, ha='center')
rect(1574, 490, 1600, 515)
txt(1587, 502, '设', GRAY, 11, ha='center')
put(1208, 523, [('时间: 2021/08/13', RED)], ms=9.5, cs=11.5)
asz = panel(1207, 530, 1600, 700, (-0.01, 3.99), (-812, 1527))
for v in sz_ticks:
    asz.axhline(v, color=RED, lw=1, ls='-' if v == 0 else (0, (1, 2)))
asz.plot([0, 0], [sz_ticks[-1], sz_ticks[0]], color=RED, lw=1, ls=(0, (1, 2)))
asz.axhline(-745, color=YEL, lw=1.2)
asz.vlines(range(4), -745, -704, color=YEL, lw=1.2)
for i, v in enumerate(sz_net):
    cyl(asz, i, cw, 0, v, cat_cols[i])
    asz.annotate(f'{v:.2f}', (i, max(v, 0)), xytext=(0, 9), textcoords='offset pixels',
                 color=cat_cols[i], fontsize=9.5, family=MONO, ha='left', va='center')
yaxis(asz, sz_ticks, [f'{v:.2f}' if v else '0' for v in sz_ticks], size=9.5, length=0)
put(1112, 701, [('净额(万元)', GRAY)], ms=9.5, cs=11.5)
put(1112, 718, [('分类', GRAY)], cs=11.5)
for i, c in enumerate(sz_cats):
    put(asz.transData.transform((i, 0))[0], 717, [(c, cat_cols[i])], cs=12)

# 深市超赢分类统计
txt(1343, 742, '深市超赢分类统计', GRAY, 11, ha='center')
rect(1574, 728, 1600, 753)
txt(1587, 740, '设', GRAY, 11, ha='center')
put(1208, 762, [('时间: 2021/08/13', RED)], ms=9.5, cs=11.5)
asm = panel(1207, 765, 1600, 880, (-0.01, 3.99), (-22.9, 82.3))
for v in (75, 50, 25, 0):
    asm.axhline(v, color=RED, lw=1, ls='-' if v == 0 else (0, (1, 2)))
asm.plot([0, 0], [0, 75], color=RED, lw=1, ls=(0, (1, 2)))
asm.axhline(-19.2, color=YEL, lw=1.2)
asm.vlines(range(4), -19.2, -16.4, color=YEL, lw=1.2)
for i, r in enumerate(sm_ratio):
    cyl(asm, i, cw, 0, r, sm_cols[i])
    asm.annotate(sm_chg[i], (i, r), xytext=(0, 9), textcoords='offset pixels',
                 color=chg_cols[i], fontsize=9.5, family=MONO, ha='left', va='center')
    asm.text(i, -9.1, f'{r:.2f}', color=sm_cols[i], fontsize=9.5, family=MONO, ha='left', va='center')
asm.hlines(sm_ratio[3], 3, 3 + cw, color=YEL, lw=1.5)
yaxis(asm, [75, 50, 25, 0], ['75', '50', '25', '0'], size=9.5, length=0)
put(1112, 865, [('比例%', GRAY)], ms=9.5, cs=11.5)
put(1112, 883, [('分类', GRAY)], cs=11.5)
for i, c in enumerate(sz_cats):
    put(asm.transData.transform((i, 0))[0], 890, [(c, sm_cols[i])], cs=12)

fig.savefig('out.png', dpi=100, facecolor='black')
